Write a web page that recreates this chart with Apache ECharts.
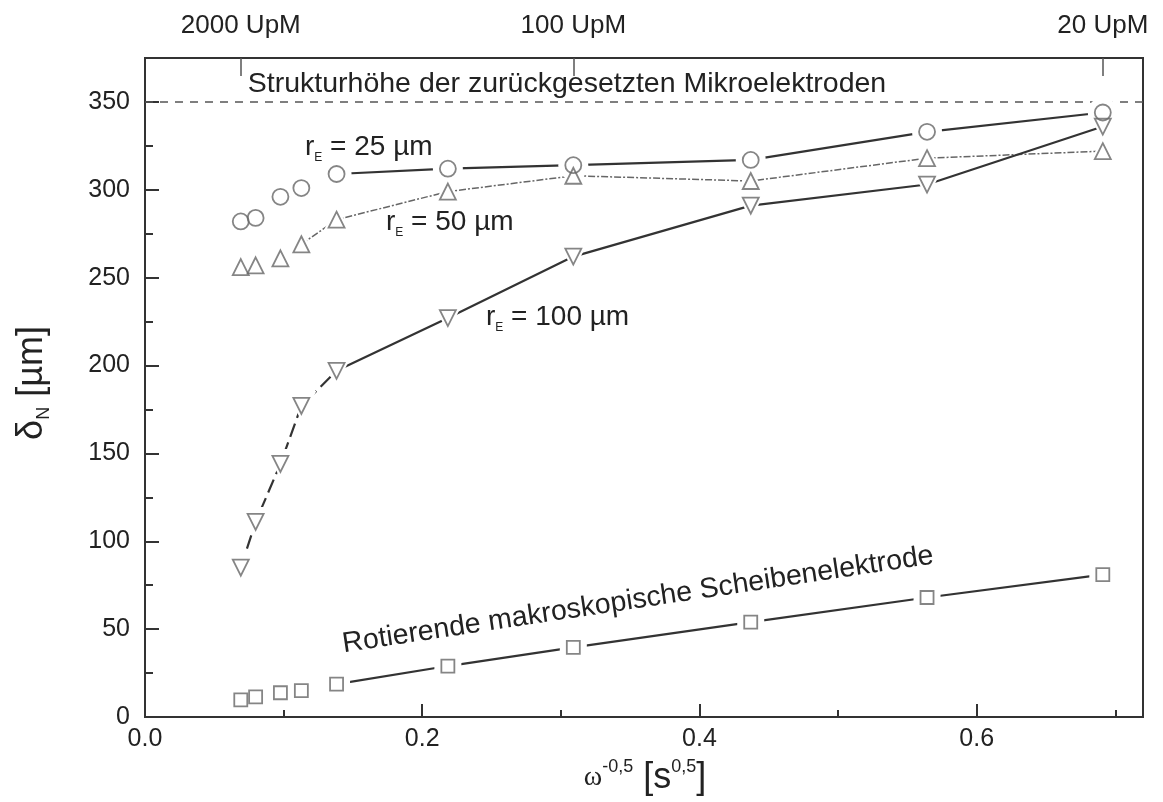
<!DOCTYPE html>
<html><head><meta charset="utf-8">
<script src="https://cdn.jsdelivr.net/npm/echarts@6/dist/echarts.min.js"></script>
<style>html,body{margin:0;padding:0;background:#fff}#c{width:1163px;height:802px}</style>
</head><body><div id="c"></div>
<script>
// rotation speeds (UpM) and their abscissa omega^-0.5 [s^0.5]
const rpm = ['2000', '1500', '1000', '750', '500', '200', '100', '50', '30', '20'];
const xValues = [0.0691, 0.0798, 0.0977, 0.1128, 0.1382, 0.2185, 0.3090, 0.4370, 0.5642, 0.6910];
// delta_N [µm]
const r25 = [282, 284, 296, 301, 309, 312, 314, 317, 333, 344];
const r50 = [256, 257, 261, 269, 283, 299, 308, 305, 318, 322];
const r100 = [85, 111, 144, 177, 197, 227, 262, 291, 303, 336];
const disk = [9.7, 11.4, 13.8, 15, 18.7, 29, 39.6, 54, 68, 81];
const structureHeight = 350;
// top axis
const topTickValues = [0.0691, 0.3090, 0.6910];
const topTickLabels = ['2000 UpM', '100 UpM', '20 UpM'];

const FONT = 'Liberation Sans, Arial, Helvetica, sans-serif';
const TXT = '#222';
const AX = '#333';

function pts(ys, from, to) {
  const out = [];
  for (let i = from; i <= to; i++) out.push([xValues[i], ys[i]]);
  return out;
}
function allPts(ys) { return pts(ys, 0, ys.length - 1); }

function lineSeries(ys, from, to, style, extra) {
  return Object.assign({
    type: 'line', data: pts(ys, from, to), symbol: 'none', showSymbol: false,
    lineStyle: style, z: 2, silent: true, animation: false
  }, extra || {});
}
function haloSeries(ys, symbol, size, rot) {
  return {
    type: 'scatter', data: allPts(ys), symbol: symbol, symbolSize: size + 14, symbolRotate: rot || 0,
    itemStyle: { color: '#fff', borderWidth: 0, opacity: 1 }, z: 5, silent: true, animation: false
  };
}
function markerSeries(ys, symbol, size, rot) {
  return {
    type: 'scatter', data: allPts(ys), symbol: symbol, symbolSize: size, symbolRotate: rot || 0,
    itemStyle: { color: 'rgba(255,255,255,0)', borderColor: '#666', borderWidth: 1.8 },
    z: 6, silent: true, animation: false
  };
}

const solid = { color: AX, width: 2.2, type: 'solid' };

const option = {
  animation: false,
  backgroundColor: '#fff',
  grid: { left: 145, right: 20, top: 58, bottom: 85, show: true, borderColor: AX, borderWidth: 2, backgroundColor: 'transparent' },
  xAxis: [
    {
      type: 'value', position: 'bottom', min: 0, max: 0.72, interval: 0.2,
      axisLine: { show: true, onZero: false, lineStyle: { color: AX, width: 2 } },
      axisTick: { inside: true, length: 13, lineStyle: { color: AX, width: 2 } },
      axisLabel: { showMaxLabel: false, margin: 10, fontSize: 25, fontFamily: FONT, color: TXT, formatter: v => v.toFixed(1) },
      splitLine: { show: false }
    },
    {
      type: 'value', position: 'bottom', min: 0, max: 0.72, interval: 0.1,
      axisLine: { show: false, onZero: false },
      axisTick: { inside: true, length: 7, lineStyle: { color: AX, width: 2 } },
      axisLabel: { show: false }, splitLine: { show: false }
    },
    {
      type: 'value', position: 'top', min: 0, max: 0.72,
      axisLine: { show: true, onZero: false, lineStyle: { color: AX, width: 2 } },
      axisTick: { show: true, inside: true, length: 18, customValues: topTickValues, lineStyle: { color: '#555', width: 1.5 } },
      axisLabel: {
        show: true, customValues: topTickValues, margin: 19, fontSize: 26, fontFamily: FONT, color: TXT,
        formatter: v => { const i = topTickValues.findIndex(t => Math.abs(t - v) < 1e-6); return i >= 0 ? topTickLabels[i] : ''; }
      },
      splitLine: { show: false }
    }
  ],
  yAxis: [
    {
      type: 'value', position: 'left', min: 0, max: 375, interval: 50,
      axisLine: { show: true, onZero: false, lineStyle: { color: AX, width: 2 } },
      axisTick: { inside: true, length: 14, lineStyle: { color: AX, width: 2 } },
      axisLabel: { showMaxLabel: false, margin: 15, fontSize: 25, fontFamily: FONT, color: TXT },
      splitLine: { show: false }
    },
    {
      type: 'value', position: 'left', min: 0, max: 375, interval: 25,
      axisLine: { show: false, onZero: false },
      axisTick: { inside: true, length: 8, lineStyle: { color: AX, width: 2 } },
      axisLabel: { show: false }, splitLine: { show: false }
    }
  ],
  series: [
    lineSeries(r25, 4, 9, solid, {
      markLine: {
        silent: true, symbol: 'none', label: { show: false },
        lineStyle: { color: '#555', width: 1.6, type: [8, 7] },
        data: [{ yAxis: structureHeight }]
      }
    }),
    lineSeries(r50, 3, 9, { color: '#666', width: 1.5, type: [7, 2, 2, 2] }),
    lineSeries(r100, 0, 4, { color: AX, width: 2.2, type: [14, 6] }),
    lineSeries(r100, 4, 9, solid),
    lineSeries(disk, 4, 9, solid),
    haloSeries(r25, 'circle', 16),
    haloSeries(r50, 'triangle', 16),
    haloSeries(r100, 'triangle', 16, 180),
    haloSeries(disk, 'rect', 13),
    markerSeries(r25, 'circle', 16),
    markerSeries(r50, 'triangle', 16),
    markerSeries(r100, 'triangle', 16, 180),
    markerSeries(disk, 'rect', 13)
  ],
  graphic: [
    { type: 'text', x: 567, y: 84, silent: true,
      style: { text: 'Strukturhöhe der zurückgesetzten Mikroelektroden', fontSize: 28.5, fontFamily: FONT, fill: TXT, align: 'center', verticalAlign: 'middle' } },
    { type: 'text', x: 305, y: 147, silent: true,
      style: { text: '{a|r}{s|E}{a| = 25 µm}', fill: TXT, align: 'left', verticalAlign: 'middle',
        rich: { a: { fontSize: 28, fontFamily: FONT, fill: TXT, lineHeight: 34, verticalAlign: 'middle' }, s: { fontSize: 12, fontFamily: FONT, fill: TXT, lineHeight: 12, verticalAlign: 'bottom' } } } },
    { type: 'text', x: 386, y: 222, silent: true,
      style: { text: '{a|r}{s|E}{a| = 50 µm}', fill: TXT, align: 'left', verticalAlign: 'middle',
        rich: { a: { fontSize: 28, fontFamily: FONT, fill: TXT, lineHeight: 34, verticalAlign: 'middle' }, s: { fontSize: 12, fontFamily: FONT, fill: TXT, lineHeight: 12, verticalAlign: 'bottom' } } } },
    { type: 'text', x: 486, y: 317, silent: true,
      style: { text: '{a|r}{s|E}{a| = 100 µm}', fill: TXT, align: 'left', verticalAlign: 'middle',
        rich: { a: { fontSize: 28, fontFamily: FONT, fill: TXT, lineHeight: 34, verticalAlign: 'middle' }, s: { fontSize: 12, fontFamily: FONT, fill: TXT, lineHeight: 12, verticalAlign: 'bottom' } } } },
    { type: 'text', x: 638, y: 600, rotation: 0.1494, silent: true,
      style: { text: 'Rotierende makroskopische Scheibenelektrode', fontSize: 28.5, fontFamily: FONT, fill: TXT, align: 'center', verticalAlign: 'middle' } },
    { type: 'text', x: 32, y: 383, rotation: Math.PI / 2, silent: true,
      style: { text: '{a|δ}{s|N}{a| [µm]}', fill: TXT, align: 'center', verticalAlign: 'middle',
        rich: { a: { fontSize: 36, fontFamily: FONT, fill: TXT, lineHeight: 42, verticalAlign: 'middle' }, s: { fontSize: 18, fontFamily: FONT, fill: TXT, lineHeight: 18, verticalAlign: 'bottom' } } } },
    { type: 'text', x: 645, y: 778, silent: true,
      style: { text: '{w|ω}{p|-0,5}{b| [s}{p|0,5}{b|]}', fill: TXT, align: 'center', verticalAlign: 'middle',
        rich: {
          w: { fontSize: 28, fontFamily: 'Liberation Serif, Times New Roman, serif', fill: TXT, lineHeight: 40, verticalAlign: 'middle' },
          p: { fontSize: 18, fontFamily: FONT, fill: TXT, lineHeight: 18, verticalAlign: 'top' },
          b: { fontSize: 36, fontFamily: FONT, fill: TXT, lineHeight: 40, verticalAlign: 'middle' }
        } } }
  ]
};

const chart = echarts.init(document.getElementById('c'), null, { renderer: 'canvas' });
chart.setOption(option);
</script>
</body></html>
